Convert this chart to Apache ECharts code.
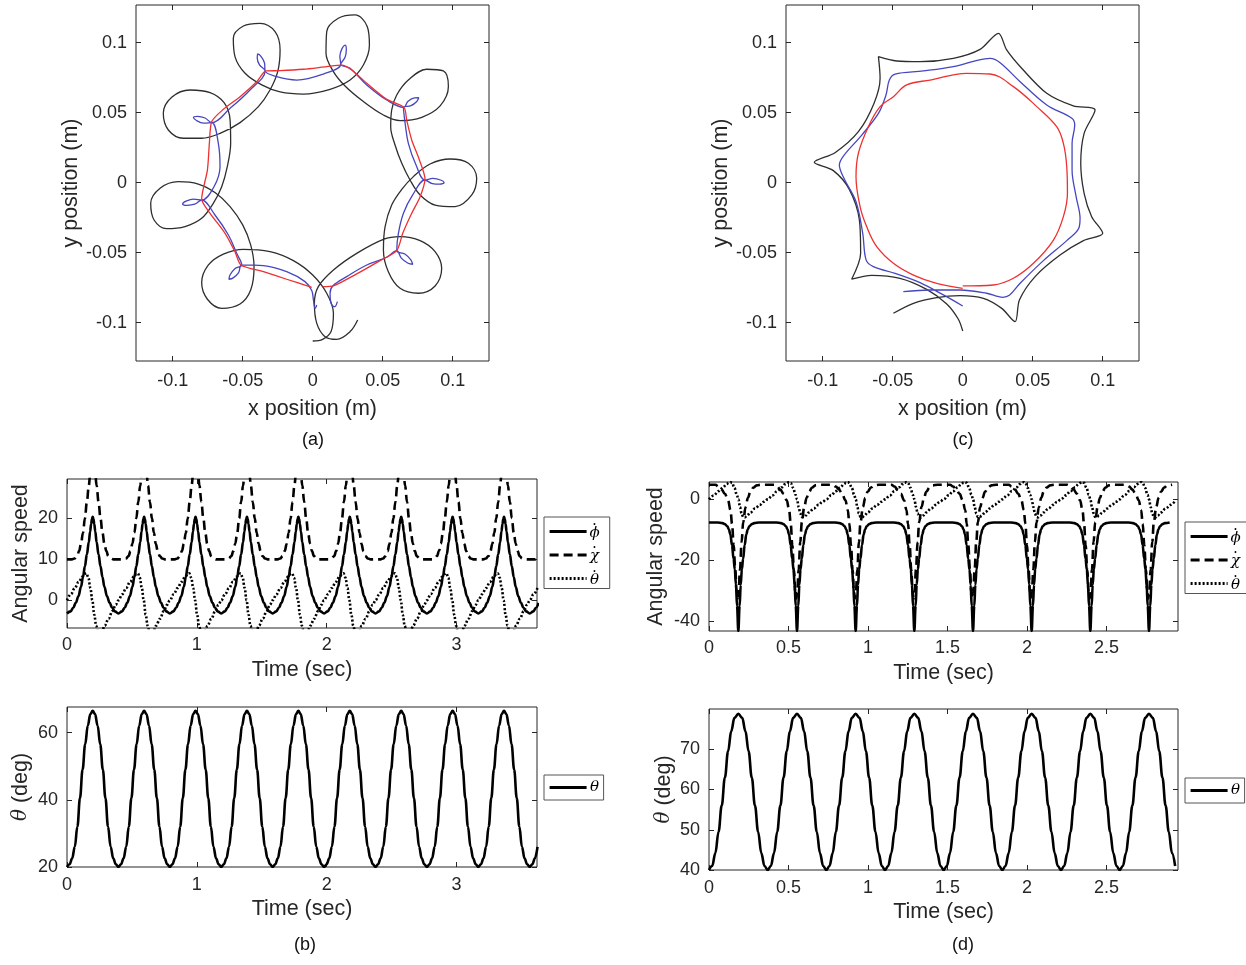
<!DOCTYPE html>
<html>
<head>
<meta charset="utf-8">
<script src="https://cdn.jsdelivr.net/npm/echarts@6.0.0/dist/echarts.min.js"></script>
<style>
  html, body { margin: 0; padding: 0; background: #fff; }
  #chart { width: 1246px; height: 965px; }
</style>
</head>
<body>
<div id="chart"></div>
<script>
const FONT = '"Liberation Sans", Arial, Helvetica, sans-serif';
const SERIF = '"DejaVu Serif", "Liberation Serif", serif';
const INK = '#262626';

// ---------- (a) planar paths, metres [x, y] ----------
const pathA_outer = [
  [0.0321,-0.0981],[0.0267,-0.1064],[0.0171,-0.1119],[0.0088,-0.1100],[0.0029,-0.1005],
  [0.0012,-0.0862],[0.0040,-0.0743],[0.0148,-0.0624],[0.0314,-0.0505],[0.0505,-0.0405],
  [0.0624,-0.0386],[0.0767,-0.0414],[0.0874,-0.0493],[0.0921,-0.0612],[0.0874,-0.0738],
  [0.0755,-0.0790],[0.0624,-0.0755],[0.0540,-0.0636],[0.0505,-0.0481],[0.0517,-0.0314],
  [0.0564,-0.0160],[0.0636,-0.0048],[0.0719,0.0043],
  [0.0838,0.0133],[0.0981,0.0169],[0.1112,0.0138],[0.1171,0.0031],[0.1136,-0.0088],
  [0.1017,-0.0171],[0.0874,-0.0160],[0.0767,-0.0088],[0.0695,0.0019],[0.0636,0.0138],
  [0.0588,0.0269],[0.0557,0.0400],[0.0564,0.0519],
  [0.0600,0.0626],[0.0683,0.0733],[0.0814,0.0810],[0.0933,0.0798],[0.0969,0.0686],
  [0.0910,0.0548],[0.0779,0.0467],[0.0624,0.0443],[0.0505,0.0483],[0.0362,0.0579],[0.0231,0.0690],
  [0.0148,0.0793],[0.0095,0.0924],[0.0100,0.1079],[0.0183,0.1174],[0.0302,0.1198],
  [0.0390,0.1114],[0.0405,0.0983],[0.0362,0.0840],[0.0267,0.0733],[0.0124,0.0667],
  [-0.0067,0.0633],[-0.0233,0.0648],[-0.0364,0.0698],
  [-0.0483,0.0781],[-0.0555,0.0900],[-0.0567,0.1031],[-0.0495,0.1119],[-0.0376,0.1138],
  [-0.0269,0.1079],[-0.0233,0.0948],[-0.0250,0.0793],[-0.0305,0.0662],[-0.0388,0.0543],
  [-0.0519,0.0429],[-0.0662,0.0352],
  [-0.0793,0.0317],[-0.0924,0.0317],[-0.1031,0.0376],[-0.1067,0.0495],[-0.1007,0.0610],
  [-0.0876,0.0662],[-0.0733,0.0643],[-0.0633,0.0571],[-0.0590,0.0448],[-0.0586,0.0281],
  [-0.0610,0.0114],[-0.0650,-0.0029],[-0.0710,-0.0148],
  [-0.0793,-0.0255],[-0.0912,-0.0314],[-0.1043,-0.0329],[-0.1133,-0.0267],[-0.1157,-0.0148],
  [-0.1090,-0.0040],[-0.0960,0.0007],[-0.0817,-0.0010],[-0.0698,-0.0071],[-0.0590,-0.0171],
  [-0.0500,-0.0302],[-0.0443,-0.0445],[-0.0419,-0.0600],
  [-0.0443,-0.0767],[-0.0519,-0.0867],[-0.0650,-0.0898],[-0.0752,-0.0833],[-0.0793,-0.0714],
  [-0.0745,-0.0588],[-0.0638,-0.0510],[-0.0495,-0.0476],[-0.0305,-0.0493],[-0.0138,-0.0557],
  [0.0000,-0.0660],[0.0100,-0.0790],[0.0148,-0.0933],[0.0131,-0.1064],[0.0071,-0.1119],[0.0000,-0.1131]
];
const pathA_middle = [
  [0.0176,-0.0850],[0.0157,-0.0886],[0.0133,-0.0867],[0.0124,-0.0790],[0.0143,-0.0738],
  [0.0243,-0.0671],[0.0386,-0.0588],[0.0529,-0.0533],[0.0600,-0.0486],
  [0.0633,-0.0539],[0.0681,-0.0576],[0.0714,-0.0583],[0.0701,-0.0552],[0.0658,-0.0510],[0.0600,-0.0486],
  [0.0612,-0.0362],[0.0648,-0.0219],[0.0714,-0.0088],[0.0802,0.0019],
  [0.0854,-0.0007],[0.0909,-0.0011],[0.0938,0.0000],[0.0913,0.0019],[0.0859,0.0030],[0.0802,0.0019],
  [0.0738,0.0126],[0.0683,0.0281],[0.0660,0.0424],[0.0648,0.0538],
  [0.0702,0.0550],[0.0743,0.0580],[0.0757,0.0607],[0.0727,0.0606],[0.0681,0.0582],[0.0648,0.0538],
  [0.0529,0.0590],[0.0386,0.0698],[0.0267,0.0817],[0.0200,0.0845],
  [0.0231,0.0896],[0.0240,0.0952],[0.0231,0.0983],[0.0210,0.0959],[0.0194,0.0905],[0.0200,0.0845],
  [0.0076,0.0776],[-0.0114,0.0733],[-0.0257,0.0757],[-0.0340,0.0798],
  [-0.0344,0.0854],[-0.0368,0.0901],[-0.0393,0.0919],[-0.0396,0.0889],[-0.0379,0.0839],[-0.0340,0.0798],
  [-0.0448,0.0662],[-0.0590,0.0531],[-0.0721,0.0429],
  [-0.0769,0.0462],[-0.0822,0.0474],[-0.0852,0.0467],[-0.0830,0.0444],[-0.0779,0.0425],[-0.0721,0.0429],
  [-0.0674,0.0281],[-0.0662,0.0114],[-0.0705,-0.0029],[-0.0793,-0.0124],
  [-0.0851,-0.0117],[-0.0905,-0.0132],[-0.0929,-0.0152],[-0.0898,-0.0162],[-0.0843,-0.0154],[-0.0793,-0.0124],
  [-0.0698,-0.0231],[-0.0602,-0.0374],[-0.0543,-0.0505],[-0.0507,-0.0588],
  [-0.0558,-0.0616],[-0.0591,-0.0660],[-0.0598,-0.0690],[-0.0568,-0.0680],[-0.0529,-0.0642],[-0.0507,-0.0588],
  [-0.0352,-0.0593],[-0.0186,-0.0636],[-0.0055,-0.0707],[-0.0007,-0.0771],[0.0005,-0.0838],
  [0.0017,-0.0898],[0.0029,-0.0874]
];
const pathA_inner = [
  [0.0071,-0.0743],[0.0152,-0.0736],[0.0314,-0.0652],[0.0481,-0.0557],[0.0600,-0.0486],
  [0.0643,-0.0362],[0.0707,-0.0219],[0.0767,-0.0100],[0.0802,0.0026],[0.0762,0.0162],
  [0.0707,0.0305],[0.0671,0.0448],[0.0652,0.0538],[0.0529,0.0595],[0.0386,0.0710],
  [0.0279,0.0805],[0.0207,0.0840],[0.0100,0.0829],[-0.0067,0.0810],[-0.0233,0.0800],
  [-0.0333,0.0798],[-0.0400,0.0721],[-0.0519,0.0614],[-0.0638,0.0524],[-0.0721,0.0436],
  [-0.0738,0.0281],[-0.0752,0.0090],[-0.0793,-0.0117],[-0.0733,-0.0219],[-0.0626,-0.0362],
  [-0.0555,-0.0493],[-0.0512,-0.0588],[-0.0352,-0.0636],[-0.0186,-0.0690],[-0.0007,-0.0748]
];

// ---------- (c) planar paths, metres [x, y] ----------
const pathC_outer = [
  [-0.0495,-0.0933],[-0.0352,-0.0862],[-0.0186,-0.0821],[-0.0019,-0.0807],[0.0148,-0.0826],
  [0.0279,-0.0898],[0.0374,-0.0993],[0.0405,-0.0838],[0.0517,-0.0671],[0.0695,-0.0517],
  [0.0862,-0.0414],[0.1000,-0.0362],[0.0921,-0.0243],[0.0867,-0.0076],[0.0843,0.0138],
  [0.0867,0.0352],[0.0945,0.0519],[0.0790,0.0548],[0.0600,0.0638],[0.0421,0.0817],
  [0.0314,0.0948],[0.0255,0.1067],[0.0124,0.0952],[-0.0067,0.0888],[-0.0305,0.0864],
  [-0.0471,0.0869],[-0.0602,0.0900],[-0.0590,0.0745],[-0.0633,0.0567],[-0.0745,0.0364],
  [-0.0912,0.0214],[-0.1060,0.0145],[-0.0924,0.0086],[-0.0810,-0.0048],[-0.0738,-0.0267],
  [-0.0729,-0.0505],[-0.0793,-0.0690],[-0.0650,-0.0662],[-0.0448,-0.0683],[-0.0257,-0.0762],
  [-0.0114,-0.0867],[-0.0031,-0.0976],[0.0000,-0.1060]
];
const pathC_middle = [
  [-0.0424,-0.0779],[-0.0233,-0.0767],[-0.0019,-0.0767],[0.0171,-0.0790],[0.0286,-0.0819],
  [0.0333,-0.0805],[0.0410,-0.0719],[0.0576,-0.0557],[0.0743,-0.0414],[0.0829,-0.0326],
  [0.0838,-0.0255],[0.0810,-0.0100],[0.0781,0.0090],[0.0781,0.0281],[0.0800,0.0412],
  [0.0779,0.0460],[0.0600,0.0555],[0.0410,0.0721],[0.0267,0.0857],[0.0195,0.0888],
  [0.0112,0.0876],[-0.0067,0.0829],[-0.0281,0.0798],[-0.0483,0.0776],[-0.0524,0.0733],
  [-0.0548,0.0626],[-0.0602,0.0495],[-0.0721,0.0340],[-0.0852,0.0190],[-0.0881,0.0126],
  [-0.0848,0.0031],[-0.0762,-0.0136],[-0.0714,-0.0362],[-0.0690,-0.0552],[-0.0638,-0.0600],
  [-0.0483,-0.0648],[-0.0305,-0.0714],[-0.0138,-0.0802],[0.0000,-0.0881]
];
const pathC_inner = [
  [0.0000,-0.0738],[0.0219,-0.0731],[0.0362,-0.0683],[0.0505,-0.0576],[0.0648,-0.0410],
  [0.0719,-0.0243],[0.0748,-0.0076],[0.0743,0.0114],[0.0719,0.0281],[0.0671,0.0400],
  [0.0529,0.0543],[0.0362,0.0686],[0.0195,0.0776],[0.0029,0.0781],[-0.0233,0.0733],
  [-0.0400,0.0698],[-0.0495,0.0614],[-0.0590,0.0543],[-0.0674,0.0400],[-0.0745,0.0210],
  [-0.0762,0.0043],[-0.0733,-0.0171],[-0.0686,-0.0314],[-0.0614,-0.0457],[-0.0495,-0.0576],
  [-0.0352,-0.0660],[-0.0186,-0.0719],[0.0000,-0.0755]
];

// ---------- tick values ----------
const posTicks = [-0.1, -0.05, 0, 0.05, 0.1];
const timeTicksB = [0, 1, 2, 3];
const rateTicksB = [0, 10, 20];
const thetaTicksB = [20, 40, 60];
const timeTicksD = [0, 0.5, 1, 1.5, 2, 2.5];
const rateTicksD = [-40, -20, 0];
const thetaTicksD = [40, 50, 60, 70];

// ---------- (b) one gait cycle per signal: phase (s) from theta minimum, value ----------
const periodB = 0.396, spanB = 3.62;
const phiDotB_phase = [0,0.028,0.048,0.068,0.088,0.108,0.123,0.138,0.153,0.168,0.178,0.186,0.192,0.198,0.204,0.21,0.218,0.228,0.243,0.258,0.273,0.288,0.308,0.328,0.348,0.368];
const phiDotB = [-3.2,-2.7,-1.8,-0.6,1.0,3.3,5.7,8.3,11.2,14.2,16.8,18.6,19.8,20.4,19.8,18.6,16.8,14.2,11.2,8.3,5.7,3.3,1.0,-0.6,-1.8,-2.7];
const chiDotB_phase = [0,0.038,0.058,0.078,0.093,0.108,0.123,0.138,0.153,0.168,0.178,0.188,0.198,0.208,0.218,0.228,0.243,0.258,0.273,0.288,0.303,0.318,0.338,0.358];
const chiDotB = [10,10,10.2,10.8,12,13.8,16.5,20,24,28,30.5,32.5,34,32.5,30.5,28,24,20,16.5,13.8,12,10.8,10.2,10];
const thetaDotB_phase = [0,0.03,0.06,0.09,0.12,0.14,0.15,0.165,0.18,0.195,0.21,0.225,0.24,0.255,0.27,0.29,0.32,0.35,0.375];
const thetaDotB = [0,1.5,3,4.5,5.8,6.5,6.6,5.5,3,0,-3.5,-6.2,-7.8,-8.3,-7.6,-6.2,-4.5,-2.6,-1.1];
const thetaB_phase = [0,0.02,0.04,0.06,0.08,0.1,0.12,0.14,0.16,0.18,0.198,0.216,0.236,0.256,0.276,0.296,0.316,0.336,0.356,0.376];
const thetaB = [20,20.8,22.6,26,32,40.5,49,56.5,62,65.5,66.5,65.5,62,56.5,49,40.5,32,26,22.6,20.8];

// ---------- (d) one gait cycle per signal ----------
const periodD = 0.369, spanD = 2.95;
const phiDotD_phase = [0,0.0545,0.0845,0.0995,0.1145,0.1245,0.1345,0.1445,0.1545,0.1625,0.1695,0.1765,0.1845,0.1925,0.1995,0.2065,0.2145,0.2245,0.2345,0.2445,0.2545,0.2695,0.2845,0.3145];
const phiDotD = [-7.6,-7.6,-7.8,-8.1,-8.8,-9.8,-11.5,-15,-19.5,-23,-28,-35,-43.2,-35,-28,-23,-19.5,-15,-11.5,-9.8,-8.8,-8.1,-7.8,-7.6];
const chiDotD_phase = [0,0.04,0.06,0.08,0.1,0.12,0.135,0.145,0.155,0.165,0.174,0.18,0.186,0.195,0.205,0.215,0.23,0.245,0.26,0.28,0.3,0.33];
const chiDotD = [4.8,4.8,4.2,3.2,1.8,-0.3,-3.5,-8,-15,-23,-30.5,-32.5,-30.5,-23,-14,-7.5,-2.5,0.5,2.5,3.9,4.6,4.8];
const thetaDotD_phase = [0,0.03,0.06,0.09,0.11,0.125,0.135,0.145,0.16,0.175,0.185,0.195,0.205,0.215,0.225,0.24,0.26,0.29,0.32,0.345];
const thetaDotD = [0,1.3,2.7,4.0,5.0,5.5,5.7,5.4,3.8,1.5,0,-2.5,-4.6,-5.8,-5.9,-5.3,-4.3,-3,-1.8,-0.8];
const thetaD_phase = [0,0.02,0.04,0.06,0.08,0.1,0.12,0.14,0.16,0.1845,0.209,0.229,0.249,0.269,0.289,0.309,0.329,0.349];
const thetaD = [40,41,44.2,49.5,56,63,69.5,74.5,77.8,78.8,77.8,74.5,69.5,63,56,49.5,44.2,41];

// Lay one sampled cycle down once per period until the time span is covered.
function repeatCycle(phases, values, period, span) {
  const out = [];
  for (let k = 0; k * period <= span; k++) {
    for (let i = 0; i < phases.length; i++) {
      const t = k * period + phases[i];
      out.push([+t.toFixed(4), values[i]]);
      if (t > span) return out;
    }
  }
  return out;
}

const NAME_PHI = '\u03D5\u0307', NAME_CHI = '\u03C7\u0307', NAME_THD = '\u03B8\u0307', NAME_TH = '\u03B8';
// legend labels: time derivatives get a dot set above the symbol
const legendLabel = {};
legendLabel[NAME_PHI] = '{dot|\u00B7}\n{sym|\u03D5}';
legendLabel[NAME_CHI] = '{dot|\u00B7}\n{sym|\u03C7}';
legendLabel[NAME_THD] = '{dot|\u00B7}\n{sym|\u03B8}';
legendLabel[NAME_TH] = '{sym|\u03B8}';

// ---------- axes ----------
const tickStyle = { inside: true, length: 5, lineStyle: { color: INK, width: 1 } };
const labelStyle = { color: INK, fontSize: 18, fontFamily: FONT };
const nameStyle = {
  color: INK, fontSize: 21.5, fontFamily: FONT,
  rich: { th: { fontFamily: SERIF, fontStyle: 'italic', fontSize: 20, color: INK } }
};
const noLine = { show: false, onZero: false };

const xAxes = [], yAxes = [];
function frame(gi, xr, yr, xt, yt, xName, yName, xGap, yGap, xMargin, yMargin) {
  xAxes.push({
    type: 'value', gridIndex: gi, position: 'bottom', min: xr[0], max: xr[1],
    axisLine: noLine, splitLine: { show: false },
    axisTick: Object.assign({ customValues: xt }, tickStyle),
    axisLabel: Object.assign({ customValues: xt, margin: xMargin }, labelStyle),
    name: xName, nameLocation: 'middle', nameGap: xGap, nameTextStyle: nameStyle
  });
  xAxes.push({
    type: 'value', gridIndex: gi, position: 'top', min: xr[0], max: xr[1],
    axisLine: noLine, splitLine: { show: false },
    axisTick: Object.assign({ customValues: xt }, tickStyle),
    axisLabel: { show: false }
  });
  yAxes.push({
    type: 'value', gridIndex: gi, position: 'left', min: yr[0], max: yr[1],
    axisLine: noLine, splitLine: { show: false },
    axisTick: Object.assign({ customValues: yt }, tickStyle),
    axisLabel: Object.assign({ customValues: yt, margin: yMargin }, labelStyle),
    name: yName, nameLocation: 'middle', nameGap: yGap, nameTextStyle: nameStyle
  });
  yAxes.push({
    type: 'value', gridIndex: gi, position: 'right', min: yr[0], max: yr[1],
    axisLine: noLine, splitLine: { show: false },
    axisTick: Object.assign({ customValues: yt }, tickStyle),
    axisLabel: { show: false }
  });
  return { x: xAxes.length - 2, y: yAxes.length - 2 };
}

const grid = [
  { left: 136, top: 5, width: 353, height: 356 },
  { left: 786, top: 5, width: 353, height: 356 },
  { left: 67, top: 479, width: 470, height: 149 },
  { left: 67, top: 707, width: 470, height: 160 },
  { left: 709, top: 482, width: 469, height: 149 },
  { left: 709, top: 709, width: 469, height: 161 }
].map(g => Object.assign({ show: true, borderColor: INK, borderWidth: 1, backgroundColor: 'transparent', containLabel: false }, g));

const posX = [-0.1262, 0.1259], posY = [-0.1274, 0.1269];
const axA = frame(0, posX, posY, posTicks, posTicks, 'x position (m)', 'y position (m)', 37, 54, 11, 9);
const axC = frame(1, posX, posY, posTicks, posTicks, 'x position (m)', 'y position (m)', 37, 54, 11, 9);
const axB1 = frame(2, [0, spanB], [-6.75, 29.6], timeTicksB, rateTicksB, 'Time (sec)', 'Angular speed', 31, 35, 8, 9);
const axB2 = frame(3, [0, spanB], [20, 67.6], timeTicksB, thetaTicksB, 'Time (sec)', '{th|θ} (deg)', 31, 35, 9, 9);
const axD1 = frame(4, [0, spanD], [-43.2, 5.7], timeTicksD, rateTicksD, 'Time (sec)', 'Angular speed', 31, 42, 8, 9);
const axD2 = frame(5, [0, spanD], [40, 80], timeTicksD, thetaTicksD, 'Time (sec)', '{th|θ} (deg)', 31, 34, 9, 9);

// ---------- series ----------
function pathSeries(ax, data, color, smooth) {
  return {
    type: 'line', xAxisIndex: ax.x, yAxisIndex: ax.y, data: data,
    symbol: 'none', showSymbol: false, smooth: smooth, silent: true, clip: true,
    lineStyle: { color: color, width: 1.3 }
  };
}
function timeSeries(ax, name, data, dash) {
  return {
    type: 'line', name: name, xAxisIndex: ax.x, yAxisIndex: ax.y, data: data,
    symbol: 'none', showSymbol: false, smooth: 0.4, smoothMonotone: 'x', silent: true, clip: true,
    itemStyle: { color: '#000' },
    lineStyle: { color: '#000', width: 2.6, type: dash }
  };
}
const OUTER = '#2e2e2e', MIDDLE = '#4646c0', INNER = '#ee3030';
const DASH = [9, 5], DOT = [2, 2];

const series = [
  pathSeries(axA, pathA_outer, OUTER, 0.36),
  pathSeries(axA, pathA_middle, MIDDLE, 0.38),
  pathSeries(axA, pathA_inner, INNER, 0.25),
  pathSeries(axC, pathC_outer, OUTER, 0.3),
  pathSeries(axC, pathC_middle, MIDDLE, 0.35),
  pathSeries(axC, pathC_inner, INNER, 0.38),

  timeSeries(axB1, NAME_PHI, repeatCycle(phiDotB_phase, phiDotB, periodB, spanB), 'solid'),
  timeSeries(axB1, NAME_CHI, repeatCycle(chiDotB_phase, chiDotB, periodB, spanB), DASH),
  timeSeries(axB1, NAME_THD, repeatCycle(thetaDotB_phase, thetaDotB, periodB, spanB), DOT),
  timeSeries(axB2, NAME_TH, repeatCycle(thetaB_phase, thetaB, periodB, spanB), 'solid'),

  timeSeries(axD1, NAME_PHI, repeatCycle(phiDotD_phase, phiDotD, periodD, spanD), 'solid'),
  timeSeries(axD1, NAME_CHI, repeatCycle(chiDotD_phase, chiDotD, periodD, spanD), DASH),
  timeSeries(axD1, NAME_THD, repeatCycle(thetaDotD_phase, thetaDotD, periodD, spanD), DOT),
  timeSeries(axD2, NAME_TH, repeatCycle(thetaD_phase, thetaD, periodD, spanD), 'solid')
];

// ---------- legends ----------
function legendBox(left, top, names, pad) {
  return {
    orient: 'vertical', left: left, top: top, data: names,
    itemWidth: 37, itemHeight: 14, itemGap: 1, padding: pad,
    borderColor: '#555', borderWidth: 1, backgroundColor: '#fff',
    selectedMode: false,
    itemStyle: { opacity: 0, borderWidth: 0 },
    lineStyle: { color: '#000', width: 3.2 },
    formatter: name => legendLabel[name],
    textStyle: {
      color: '#000', padding: [0, 0, 0, -2],
      rich: {
        dot: { fontFamily: SERIF, fontSize: 14, lineHeight: 3, width: 10, align: 'center', color: '#000' },
        sym: { fontFamily: SERIF, fontStyle: 'italic', fontSize: 15, lineHeight: 13, width: 10, align: 'center', color: '#000' }
      }
    }
  };
}
const legend = [
  legendBox(544, 517, [NAME_PHI, NAME_CHI, NAME_THD], [1, 10, 1, 4]),
  legendBox(544, 775, [NAME_TH], [5, 4, 5, 4]),
  legendBox(1185, 522, [NAME_PHI, NAME_CHI, NAME_THD], [1, 10, 1, 4]),
  legendBox(1185, 778, [NAME_TH], [5, 4, 5, 4])
];

// ---------- panel tags ----------
function tag(x, y, text) {
  return {
    type: 'text', x: x, y: y, silent: true,
    style: { text: text, fontSize: 18, fontFamily: FONT, fill: '#111', align: 'center', verticalAlign: 'middle' }
  };
}
const graphic = [tag(313, 440, '(a)'), tag(963, 440, '(c)'), tag(305, 945, '(b)'), tag(963, 945, '(d)')];

const chart = echarts.init(document.getElementById('chart'), null, { renderer: 'canvas' });
chart.setOption({
  animation: false,
  backgroundColor: '#fff',
  grid: grid,
  xAxis: xAxes,
  yAxis: yAxes,
  legend: legend,
  series: series,
  graphic: graphic
});
</script>
</body>
</html>
